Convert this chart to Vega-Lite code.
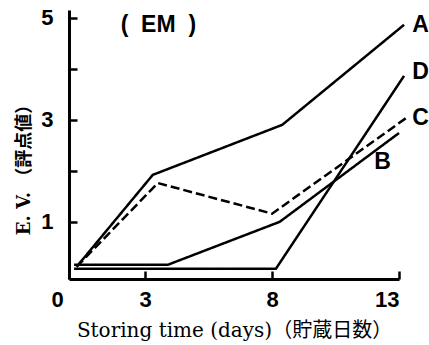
{
  "$schema": "https://vega.github.io/schema/vega-lite/v6.json",
  "width": 330,
  "height": 269,
  "autosize": {"type": "none"},
  "padding": {"left": 69, "top": 10, "right": 30, "bottom": 66},
  "background": "white",
  "config": {"view": {"stroke": null}, "axis": {"grid": false}},
  "datasets": {
    "lines": [
      {"series": "A", "order": 1, "day": 0.3, "value": 0.12},
      {"series": "A", "order": 2, "day": 3.3, "value": 1.92},
      {"series": "A", "order": 3, "day": 8.4, "value": 2.9},
      {"series": "A", "order": 4, "day": 13.2, "value": 4.86},
      {"series": "B", "order": 1, "day": 0.2, "value": 0.16},
      {"series": "B", "order": 2, "day": 3.9, "value": 0.16},
      {"series": "B", "order": 3, "day": 8.3, "value": 1.0},
      {"series": "B", "order": 4, "day": 13.0, "value": 2.74},
      {"series": "C", "order": 1, "day": 0.3, "value": 0.12},
      {"series": "C", "order": 2, "day": 3.5, "value": 1.76},
      {"series": "C", "order": 3, "day": 8.0, "value": 1.16},
      {"series": "C", "order": 4, "day": 13.3, "value": 3.04},
      {"series": "D", "order": 1, "day": 0.2, "value": 0.08},
      {"series": "D", "order": 2, "day": 8.15, "value": 0.08},
      {"series": "D", "order": 3, "day": 13.2, "value": 3.86}
    ],
    "labels": [
      {"label": "A", "day": 13.85, "value": 4.86},
      {"label": "D", "day": 13.85, "value": 3.94},
      {"label": "C", "day": 13.85, "value": 3.04},
      {"label": "B", "day": 12.35, "value": 2.18},
      {"label": "(\u00a0\u00a0EM\u00a0\u00a0)", "day": 3.52, "value": 4.86}
    ]
  },
  "layer": [
    {
      "data": {"name": "lines"},
      "mark": {"type": "line", "color": "black", "strokeWidth": 2.5, "clip": false},
      "encoding": {
        "x": {
          "field": "day", "type": "quantitative",
          "scale": {"domain": [0, 13], "nice": false, "zero": false},
          "axis": {
            "values": [0, 3, 8, 13],
            "title": "Storing time (days)（貯蔵日数）",
            "titleFont": "DejaVu Serif, Noto Sans CJK JP",
            "titleFontSize": 20,
            "titleFontWeight": "normal",
            "titleColor": "black",
            "titleX": 165,
            "titleY": 51,
            "titleBaseline": "middle",
            "titleAlign": "center",
            "domainColor": "black",
            "domainWidth": 3,
            "tickColor": "black",
            "tickWidth": 2.5,
            "tickSize": -8,
            "labelFont": "Liberation Sans",
            "labelFontSize": 22,
            "labelFontWeight": "bold",
            "labelColor": "black",
            "labelPadding": 18,
            "labelOffset": {"condition": {"test": "datum.value == 0", "value": -18}, "value": 0}
          }
        },
        "y": {
          "field": "value", "type": "quantitative",
          "scale": {"domain": [-0.12, 5.15], "nice": false, "zero": false},
          "axis": {
            "values": [1, 2, 3, 4, 5],
            "labelExpr": "datum.value % 2 == 1 ? datum.label : ''",
            "title": "E. V. （評点値）",
            "titleFont": "DejaVu Serif, Noto Sans CJK JP",
            "titleFontSize": 18,
            "titleFontWeight": "bold",
            "titleColor": "black",
            "titleAngle": -90,
            "titleX": -45,
            "titleY": 155,
            "titleBaseline": "middle",
            "titleAlign": "center",
            "domainColor": "black",
            "domainWidth": 3,
            "tickColor": "black",
            "tickWidth": 2.5,
            "tickSize": -8,
            "labelFont": "Liberation Sans",
            "labelFontSize": 22,
            "labelFontWeight": "bold",
            "labelColor": "black",
            "labelPadding": 24
          }
        },
        "detail": {"field": "series"},
        "order": {"field": "order"},
        "strokeDash": {
          "field": "series", "type": "nominal",
          "scale": {"domain": ["A", "B", "C", "D"], "range": [[1, 0], [1, 0], [9, 4], [1, 0]]},
          "legend": null
        }
      }
    },
    {
      "data": {"name": "labels"},
      "mark": {"type": "text", "font": "Liberation Sans", "fontSize": 23, "fontWeight": "bold", "color": "black", "align": "center", "baseline": "middle"},
      "encoding": {
        "x": {"field": "day", "type": "quantitative"},
        "y": {"field": "value", "type": "quantitative"},
        "text": {"field": "label"}
      }
    }
  ]
}
